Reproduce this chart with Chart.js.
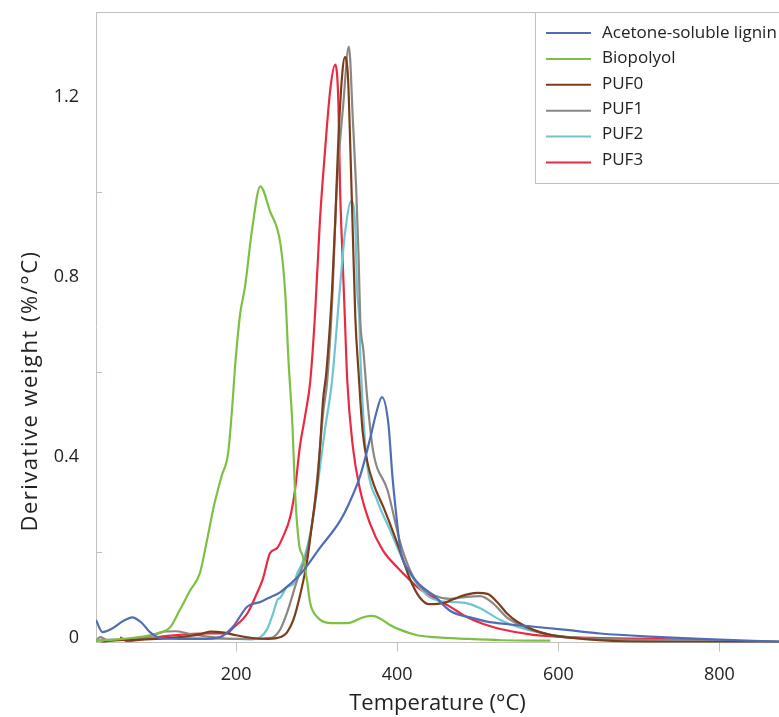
<!DOCTYPE html>
<html>
<head>
<meta charset="utf-8">
<script src="https://cdn.jsdelivr.net/npm/chart.js@4.4.1/dist/chart.umd.min.js"></script>
<style>
  html, body { margin: 0; padding: 0; background: #fff; overflow: hidden; }
  #wrap { position: relative; width: 779px; height: 717px; }
</style>
</head>
<body>
<div id="wrap"><canvas id="dtgChart"></canvas></div>
<script>
// Ejes
const xTickValues = [200, 400, 600, 800];
const yTickValues = [0, 0.2, 0.4, 0.6, 0.8, 1.0, 1.2];
const yLabelValues = [0, 0.4, 0.8, 1.2];
const yMinorValues = [0.2, 0.6, 1.0];

// Acetone-soluble lignin
const tLignin = [26, 34, 45, 60, 71, 82, 93, 106, 130, 155, 180, 196, 214, 230, 242, 255, 267, 280, 304, 329, 342, 354, 366, 374, 381, 389, 394, 399, 404, 416, 428, 445, 466, 494, 510, 540, 570, 610, 652, 714, 776, 874];
const yLignin = [0.05, 0.023, 0.03, 0.048, 0.056, 0.045, 0.023, 0.01, 0.008, 0.008, 0.012, 0.035, 0.08, 0.09, 0.1, 0.112, 0.13, 0.152, 0.21, 0.27, 0.316, 0.37, 0.45, 0.51, 0.545, 0.486, 0.37, 0.28, 0.205, 0.155, 0.128, 0.105, 0.07, 0.054, 0.047, 0.04, 0.035, 0.028, 0.02, 0.013, 0.008, 0.002];

// Biopolyol
const tBiopolyol = [26, 45, 70, 102, 118, 130, 143, 155, 163, 172, 182, 190, 195, 199, 205, 211, 220, 230, 242, 255, 261, 265, 270, 273, 278, 283, 288, 292, 301, 317, 338, 358, 369, 378, 391, 404, 425, 445, 487, 530, 590];
const yBiopolyol = [0.005, 0.006, 0.01, 0.02, 0.034, 0.072, 0.116, 0.154, 0.22, 0.3, 0.37, 0.42, 0.52, 0.62, 0.73, 0.79, 0.92, 1.013, 0.958, 0.885, 0.774, 0.626, 0.478, 0.34, 0.22, 0.19, 0.138, 0.087, 0.056, 0.043, 0.043, 0.056, 0.059, 0.054, 0.039, 0.028, 0.016, 0.012, 0.008, 0.005, 0.004];

// PUF0
const tPUF0 = [26, 30, 44, 70, 100, 130, 155, 168, 185, 200, 220, 240, 255, 263, 271, 280, 288, 294, 301, 304, 308, 312, 319, 323, 327, 332, 335, 339, 342, 345, 348, 352, 357, 363, 371, 383, 396, 404, 416, 428, 440, 458, 475, 490, 500, 512, 524, 536, 549, 569, 590, 630, 673, 750, 874];
const yPUF0 = [-0.012, -0.005, 0.004, 0.006, 0.008, 0.012, 0.018, 0.024, 0.022, 0.016, 0.01, 0.008, 0.012, 0.022, 0.05, 0.11, 0.18, 0.26, 0.36, 0.43, 0.54, 0.6, 0.78, 0.935, 1.12, 1.268, 1.3, 1.25, 1.084, 0.9, 0.72, 0.6, 0.47, 0.4, 0.35, 0.3, 0.24, 0.2, 0.14, 0.1, 0.085, 0.088, 0.1, 0.108, 0.11, 0.108, 0.09, 0.065, 0.046, 0.028, 0.017, 0.008, 0.003, 0.001, 0.001];

// PUF1
const tPUF1 = [26, 31, 40, 70, 95, 110, 125, 140, 160, 180, 200, 220, 240, 246, 255, 263, 276, 288, 296, 302, 308, 313, 319, 325, 333, 340, 345, 349, 352, 354, 358, 363, 370, 388, 404, 416, 428, 445, 466, 480, 503, 519, 536, 561, 590, 630, 700, 800, 874];
const yPUF1 = [0.003, 0.012, 0.006, 0.008, 0.015, 0.024, 0.025, 0.02, 0.014, 0.01, 0.008, 0.008, 0.01, 0.012, 0.03, 0.065, 0.14, 0.2, 0.286, 0.39, 0.51, 0.58, 0.75, 1.01, 1.195, 1.323, 1.157, 1.01, 0.86, 0.72, 0.648, 0.537, 0.426, 0.338, 0.22, 0.16, 0.125, 0.105, 0.097, 0.1, 0.103, 0.087, 0.056, 0.032, 0.017, 0.01, 0.006, 0.003, 0.002];

// PUF2
const tPUF2 = [26, 50, 80, 110, 140, 170, 200, 220, 230, 238, 246, 251, 255, 263, 271, 276, 283, 294, 302, 310, 319, 329, 335, 343, 348, 350, 353, 354, 358, 363, 375, 391, 412, 437, 453, 466, 487, 503, 528, 549, 590, 631, 700, 800, 874];
const yPUF2 = [0.003, 0.005, 0.008, 0.01, 0.01, 0.008, 0.008, 0.007, 0.012, 0.028, 0.065, 0.094, 0.1, 0.123, 0.13, 0.154, 0.18, 0.26, 0.36, 0.47, 0.58, 0.79, 0.907, 0.98, 0.92, 0.79, 0.714, 0.648, 0.5, 0.39, 0.316, 0.25, 0.165, 0.105, 0.092, 0.09, 0.087, 0.076, 0.05, 0.035, 0.017, 0.008, 0.005, 0.003, 0.002];

// PUF3
const tPUF3 = [56, 65, 80, 93, 130, 155, 188, 196, 214, 226, 233, 242, 251, 258, 267, 273, 279, 286, 292, 298, 304, 310, 317, 323, 327, 329, 332, 335, 338, 345, 354, 366, 382, 400, 416, 425, 445, 466, 487, 507, 528, 569, 611, 652, 714, 792];
const yPUF3 = [0.012, 0.003, 0.006, 0.01, 0.017, 0.02, 0.02, 0.032, 0.065, 0.11, 0.14, 0.198, 0.21, 0.234, 0.278, 0.338, 0.433, 0.507, 0.58, 0.73, 0.936, 1.084, 1.23, 1.283, 1.195, 1.01, 0.86, 0.72, 0.58, 0.433, 0.338, 0.265, 0.205, 0.167, 0.138, 0.123, 0.1, 0.079, 0.056, 0.041, 0.03, 0.017, 0.012, 0.01, 0.008, 0.005];

const seriesNames = ["Acetone-soluble lignin", "Biopolyol", "PUF0", "PUF1", "PUF2", "PUF3"];
const seriesColors = ["#4f6db5", "#7dc144", "#7b3d1c", "#8c8782", "#6fc6cf", "#ea2a40"];

const FONT = "'Open Sans', 'DejaVu Sans', sans-serif";
const AXIS_COLOR = "#c3bfbb";

function toPoints(t, y) {
  return t.map(function (x, i) { return { x: x, y: y[i] }; });
}

const allSeries = [
  toPoints(tLignin, yLignin),
  toPoints(tBiopolyol, yBiopolyol),
  toPoints(tPUF0, yPUF0),
  toPoints(tPUF1, yPUF1),
  toPoints(tPUF2, yPUF2),
  toPoints(tPUF3, yPUF3),
];

// Marco superior, marcas menores del eje y hacia dentro, titulo y leyenda
const decorPlugin = {
  id: "decor",
  afterDraw(chart) {
    const ctx = chart.ctx;
    const area = chart.chartArea;
    const yScale = chart.scales.y;
    ctx.save();
    ctx.strokeStyle = AXIS_COLOR;
    ctx.lineWidth = 1;
    ctx.beginPath();
    ctx.moveTo(area.left, area.top + 0.5);
    ctx.lineTo(area.right, area.top + 0.5);
    yMinorValues.forEach(function (v) {
      const py = Math.round(yScale.getPixelForValue(v)) + 0.5;
      ctx.moveTo(area.left, py);
      ctx.lineTo(area.left + 6, py);
    });
    ctx.stroke();

    // titulo eje y
    ctx.fillStyle = "#222";
    ctx.font = "22px " + FONT;
    ctx.letterSpacing = "1.5px";
    ctx.textAlign = "center";
    ctx.textBaseline = "middle";
    ctx.translate(31, 391);
    ctx.rotate(-Math.PI / 2);
    ctx.fillText("Derivative weight (%/°C)", 0, 0);
    ctx.restore();

    // leyenda
    ctx.save();
    const boxX = 535.5, boxY = 12.5, boxH = 171;
    ctx.fillStyle = "#fff";
    ctx.fillRect(boxX, boxY, 300, boxH);
    ctx.strokeStyle = AXIS_COLOR;
    ctx.strokeRect(boxX, boxY, 300, boxH);
    ctx.font = "17px " + FONT;
    ctx.textAlign = "left";
    ctx.textBaseline = "middle";
    seriesNames.forEach(function (name, i) {
      const ry = 33 + i * 25.4;
      ctx.strokeStyle = seriesColors[i];
      ctx.lineWidth = 2;
      ctx.beginPath();
      ctx.moveTo(546, ry + 0.5 * i);
      ctx.lineTo(591, ry + 0.5 * i);
      ctx.stroke();
      ctx.fillStyle = "#222";
      ctx.fillText(name, 602, ry);
    });
    ctx.restore();
  },
};

const ctx = document.getElementById("dtgChart");

new Chart(ctx.getContext("2d"), {
  type: "line",
  data: {
    datasets: allSeries.map(function (pts, i) {
      return {
        label: seriesNames[i],
        data: pts,
        borderColor: seriesColors[i],
        backgroundColor: seriesColors[i],
        borderWidth: 2.2,
        pointRadius: 0,
        fill: false,
        cubicInterpolationMode: "monotone",
      };
    }),
  },
  options: {
    responsive: true,
    maintainAspectRatio: false,
    animation: false,
    layout: { padding: { top: 12, right: 0, left: 0, bottom: 0 } },
    plugins: {
      legend: { display: false },
      tooltip: { enabled: false },
    },
    scales: {
      x: {
        type: "linear",
        min: 26,
        max: 874,
        afterBuildTicks: function (scale) {
          scale.ticks = xTickValues.map(function (v) { return { value: v }; });
        },
        afterFit: function (scale) {
          scale.height = 74.5;
          scale.paddingLeft = 0;
          scale.paddingRight = 0;
        },
        border: { color: AXIS_COLOR, width: 1 },
        grid: {
          drawOnChartArea: false,
          drawTicks: true,
          tickLength: 9,
          color: AXIS_COLOR,
        },
        ticks: {
          color: "#222",
          font: { family: FONT, size: 18 },
          padding: 13,
          maxRotation: 0,
        },
        title: {
          display: true,
          text: "Temperature (°C)",
          color: "#222",
          font: { family: FONT, size: 22 },
          padding: { top: 0, bottom: 0 },
        },
      },
      y: {
        type: "linear",
        min: 0,
        max: 1.4,
        afterBuildTicks: function (scale) {
          scale.ticks = yTickValues.map(function (v) { return { value: v }; });
        },
        afterFit: function (scale) {
          scale.width = 96;
          scale.paddingTop = 0;
          scale.paddingBottom = 0;
        },
        border: { color: AXIS_COLOR, width: 1 },
        grid: { display: false, drawTicks: false },
        ticks: {
          color: "#222",
          font: { family: FONT, size: 18 },
          padding: 17,
          labelOffset: -5,
          callback: function (value) {
            const hit = yLabelValues.some(function (v) { return Math.abs(v - value) < 1e-6; });
            if (!hit) return "";
            return value === 0 ? "0" : value.toFixed(1);
          },
        },
      },
    },
  },
  plugins: [decorPlugin],
});
</script>
</body>
</html>
